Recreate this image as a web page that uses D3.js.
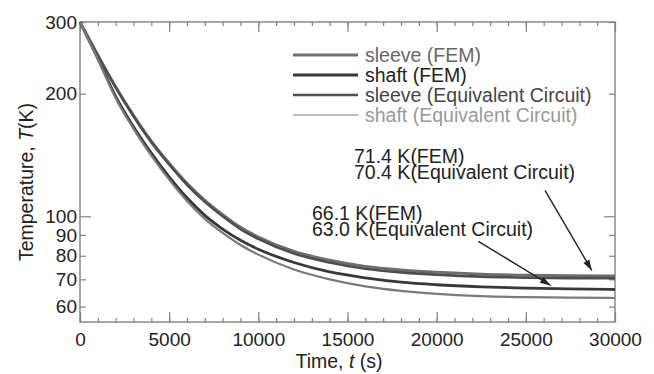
<!DOCTYPE html>
<html>
<head>
<meta charset="utf-8">
<script src="https://cdn.jsdelivr.net/npm/d3@7"></script>
<style>
  body { margin: 0; background: #fff; }
  svg { display: block; font-family: "Liberation Sans", Arial, sans-serif; }
</style>
</head>
<body>
<div id="chart"></div>
<script>
// time (s) and temperatures (K)
const times      = [0, 1000, 2000, 3000, 4000, 5000, 6000, 7000, 8000, 9000, 10000, 12000, 14000, 16000, 18000, 20000, 22500, 25000, 27500, 30000];
const sleeveFEM  = [300, 249, 208, 177, 153, 135, 120.5, 109.5, 101, 94, 89, 82, 78, 75.3, 73.8, 72.9, 72.1, 71.7, 71.5, 71.4];
const sleeveEC   = [300, 248, 207, 176, 152, 134, 119.5, 108.5, 100, 93, 88, 81, 77, 74.3, 72.8, 71.9, 71.1, 70.7, 70.5, 70.4];
const shaftFEM   = [300, 244, 197, 166, 143, 125, 111, 100.5, 93, 87.3, 83, 77, 73, 70.6, 68.9, 67.9, 67.1, 66.6, 66.3, 66.1];
const shaftEC    = [300, 243, 195, 164, 141, 123, 109, 98.5, 91, 85, 80.5, 74, 70, 67.3, 65.6, 64.5, 63.7, 63.3, 63.1, 63.0];

const seriesNames  = ["sleeve (FEM)", "shaft (FEM)", "sleeve (Equivalent Circuit)", "shaft (Equivalent Circuit)"];
const seriesValues = [sleeveFEM, shaftFEM, sleeveEC, shaftEC];
const lineColors   = ["#6e6e6e", "#383838", "#4e4e4e", "#7a7a7a"];
const legendColors = ["#707070", "#383838", "#4e4e4e", "#a8a8a8"];
const textColors   = ["#666", "#222", "#444", "#999"];
const lineWidths   = [2.8, 2.8, 2.6, 2.2];
const legendWidths = [2.8, 2.8, 2.6, 1.6];

const yTickValues = [300, 200, 100, 90, 80, 70, 60];
const xMajorTicks = d3.range(0, 30001, 5000);
const xMinorTicks = d3.range(0, 30001, 1000);

// annotations: text lines, arrow from (t,T) to (t,T)
const notes = [
  { lines: ["71.4 K(FEM)", "70.4 K(Equivalent Circuit)"], x: 354, y: 163, from: [26075, 115.8], to: [28700, 73.6] },
  { lines: ["66.1 K(FEM)", "63.0 K(Equivalent Circuit)"], x: 312, y: 220, from: [22335, 86.8], to: [26400, 67.6] }
];

const width = 654, height = 374;
const margin = { left: 80, right: 39, top: 22, bottom: 52 };

const x = d3.scaleLinear().domain([0, 30000]).range([margin.left, width - margin.right]);
const y = d3.scaleLog().domain([55, 300]).range([height - margin.bottom, margin.top]);

const svg = d3.select("#chart").append("svg")
  .attr("width", width)
  .attr("height", height);

svg.append("defs").append("marker")
  .attr("id", "arrow")
  .attr("viewBox", "0 -5 12 10")
  .attr("refX", 12)
  .attr("refY", 0)
  .attr("markerWidth", 12)
  .attr("markerHeight", 9)
  .attr("markerUnits", "userSpaceOnUse")
  .attr("orient", "auto")
  .append("path")
  .attr("fill", "#222")
  .attr("d", "M0,-3.8L12,0L0,3.8Z");

const axisColor = "#808080";
const styleAxis = g => {
  g.select(".domain").remove();
  g.selectAll(".tick line").attr("stroke", axisColor).attr("stroke-width", 1.2);
  g.selectAll(".tick text").attr("fill", "#222").style("font-size", "19px");
};

const x0 = margin.left, x1 = width - margin.right;
const y0 = height - margin.bottom, y1 = margin.top;

// minor x ticks bottom + top
svg.append("g").attr("transform", `translate(0,${y0})`)
  .call(d3.axisBottom(x).tickValues(xMinorTicks).tickSizeInner(-4).tickSizeOuter(0).tickFormat(""))
  .call(styleAxis);
svg.append("g").attr("transform", `translate(0,${y1})`)
  .call(d3.axisTop(x).tickValues(xMinorTicks).tickSizeInner(-4).tickSizeOuter(0).tickFormat(""))
  .call(styleAxis);

// major x ticks
svg.append("g").attr("transform", `translate(0,${y0})`)
  .call(d3.axisBottom(x).tickValues(xMajorTicks).tickSizeInner(-10).tickSizeOuter(0).tickPadding(11).tickFormat(d3.format("d")))
  .call(styleAxis);
svg.append("g").attr("transform", `translate(0,${y1})`)
  .call(d3.axisTop(x).tickValues(xMajorTicks).tickSizeInner(-10).tickSizeOuter(0).tickFormat(""))
  .call(styleAxis);

// y ticks left + right
const yLeft = svg.append("g").attr("transform", `translate(${x0},0)`)
  .call(d3.axisLeft(y).tickValues(yTickValues).tickSizeInner(-6).tickSizeOuter(0).tickPadding(3).tickFormat(d3.format("d")))
  .call(styleAxis);
yLeft.selectAll(".tick line").filter(d => d === 100).attr("x2", 11);

const yRight = svg.append("g").attr("transform", `translate(${x1},0)`)
  .call(d3.axisRight(y).tickValues(yTickValues).tickSizeInner(-6).tickSizeOuter(0).tickFormat(""))
  .call(styleAxis);
yRight.selectAll(".tick line").filter(d => d === 100).attr("x2", -11);

// frame
svg.append("rect")
  .attr("x", x0).attr("y", y1)
  .attr("width", x1 - x0).attr("height", y0 - y1)
  .attr("fill", "none")
  .attr("stroke", axisColor)
  .attr("stroke-width", 1.4);

// curves
const line = d3.line()
  .x((d, i) => x(times[i]))
  .y(d => y(d))
  .curve(d3.curveMonotoneX);

svg.append("g")
  .selectAll("path")
  .data(seriesValues)
  .join("path")
  .attr("fill", "none")
  .attr("stroke", (d, i) => lineColors[i])
  .attr("stroke-width", (d, i) => lineWidths[i])
  .attr("d", line);

// legend
const legend = svg.append("g").attr("transform", "translate(293,55)");
const item = legend.selectAll("g")
  .data(seriesNames)
  .join("g")
  .attr("transform", (d, i) => `translate(0,${i * 20})`);
item.append("line")
  .attr("x1", 0).attr("x2", 65)
  .attr("stroke", (d, i) => legendColors[i])
  .attr("stroke-width", (d, i) => legendWidths[i]);
item.append("text")
  .attr("x", 72)
  .attr("y", 7)
  .attr("fill", (d, i) => textColors[i])
  .style("font-size", "19.5px")
  .text(d => d);

// annotations
notes.forEach(n => {
  const t = svg.append("text")
    .attr("x", n.x)
    .attr("y", n.y)
    .attr("fill", "#222")
    .style("font-size", "19.5px");
  n.lines.forEach((s, i) => {
    t.append("tspan").attr("x", n.x).attr("dy", i === 0 ? 0 : 16).text(s);
  });
  svg.append("line")
    .attr("x1", x(n.from[0])).attr("y1", y(n.from[1]))
    .attr("x2", x(n.to[0])).attr("y2", y(n.to[1]))
    .attr("stroke", "#222")
    .attr("stroke-width", 1.4)
    .attr("marker-end", "url(#arrow)");
});

// axis titles
const xTitle = svg.append("text")
  .attr("x", 339)
  .attr("y", 368)
  .attr("text-anchor", "middle")
  .attr("fill", "#222")
  .style("font-size", "19.5px");
xTitle.append("tspan").text("Time, ");
xTitle.append("tspan").style("font-style", "italic").text("t");
xTitle.append("tspan").text(" (s)");

const yTitle = svg.append("text")
  .attr("transform", "translate(33,182) rotate(-90)")
  .attr("text-anchor", "middle")
  .attr("fill", "#222")
  .style("font-size", "19.5px");
yTitle.append("tspan").text("Temperature,  ");
yTitle.append("tspan").style("font-style", "italic").text("T");
yTitle.append("tspan").text("(K)");
</script>
</body>
</html>
